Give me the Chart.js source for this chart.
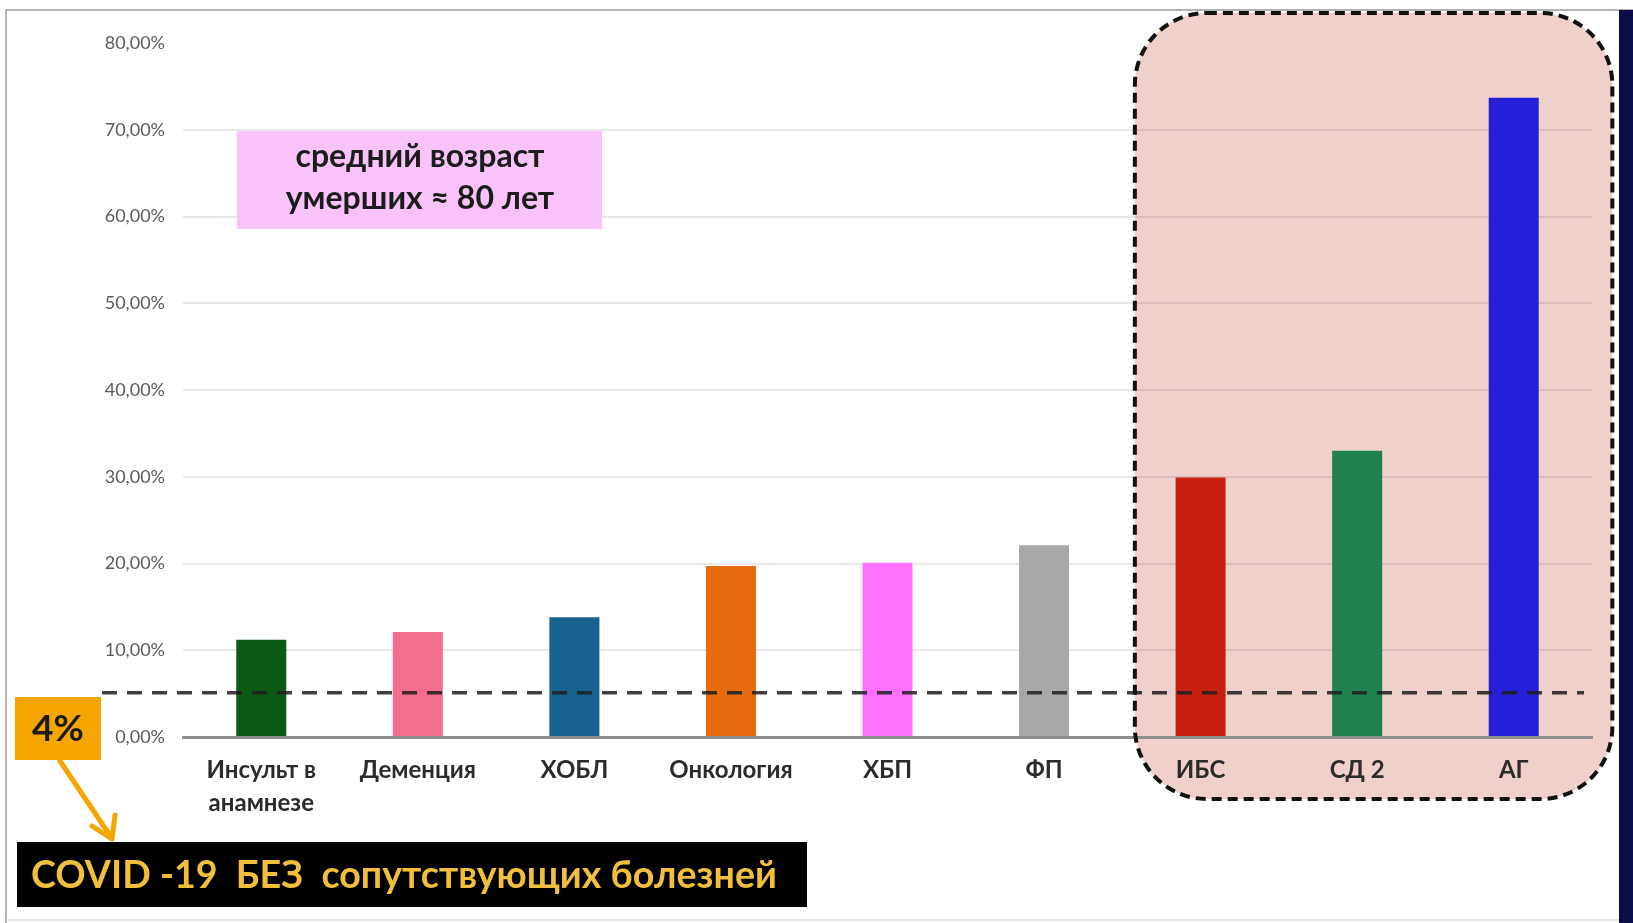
<!DOCTYPE html>
<html>
<head>
<meta charset="utf-8">
<script src="https://cdn.jsdelivr.net/npm/chart.js@4"></script>
<style>
html,body{margin:0;padding:0;background:#fff;overflow:hidden;}
#wrap{position:relative;width:1633px;height:923px;}
</style>
</head>
<body>
<div id="wrap"><canvas id="c" width="1633" height="923"></canvas></div>
<script>
// ---- data ----
const categories = [["Инсульт в", "анамнезе"], "Деменция", "ХОБЛ", "Онкология", "ХБП", "ФП", "ИБС", "СД 2", "АГ"];
const values = [11.2, 12.1, 13.8, 19.7, 20.1, 22.1, 29.9, 33.0, 73.7];
const barColors = ["#0b5a14", "#f26d8e", "#17628f", "#e56b0e", "#ff72ff", "#a8a8a8", "#c91f10", "#1f8050", "#2520d8"];
const yTicks = [0, 10, 20, 30, 40, 50, 60, 70, 80];
const refLineValue = 5.1;      // dashed "4%" reference line position as drawn
const refLineLabel = "4%";
const highlightFrom = 6;       // index of first highlighted category (ИБС)
const noteLines = ["средний возраст", "умерших ≈ 80 лет"];
const bannerText = "COVID -19  БЕЗ  сопутствующих болезней";

function roundRect(ctx, x, y, w, h, r) {
  ctx.beginPath();
  ctx.moveTo(x + r, y);
  ctx.lineTo(x + w - r, y);
  ctx.arcTo(x + w, y, x + w, y + r, r);
  ctx.lineTo(x + w, y + h - r);
  ctx.arcTo(x + w, y + h, x + w - r, y + h, r);
  ctx.lineTo(x + r, y + h);
  ctx.arcTo(x, y + h, x, y + h - r, r);
  ctx.lineTo(x, y + r);
  ctx.arcTo(x, y, x + r, y, r);
  ctx.closePath();
}

function regionRect(chart) {
  const xs = chart.scales.x;
  const cw = xs.getPixelForValue(1) - xs.getPixelForValue(0);
  const left = xs.getPixelForValue(highlightFrom) - 0.42 * cw;
  const right = xs.getPixelForValue(categories.length - 1) + 0.63 * cw;
  return {left, right, top: 13, bottom: 799};
}

const decor = {
  id: 'decor',
  beforeDraw(chart) {
    const ctx = chart.ctx;
    ctx.save();
    ctx.fillStyle = '#ffffff';
    ctx.fillRect(0, 0, chart.width, chart.height);
    // frame
    ctx.strokeStyle = '#9a9a9a';
    ctx.lineWidth = 1.5;
    ctx.beginPath();
    ctx.moveTo(6, 923); ctx.lineTo(6, 10); ctx.lineTo(1633, 10);
    ctx.stroke();
    ctx.strokeStyle = '#dcdcdc';
    ctx.beginPath(); ctx.moveTo(6, 920); ctx.lineTo(1633, 920); ctx.stroke();
    // highlight region fill
    const r = regionRect(chart);
    ctx.fillStyle = '#efd0cb';
    roundRect(ctx, r.left, r.top, r.right - r.left, r.bottom - r.top, 72);
    ctx.fill();
    ctx.restore();
  },
  afterDatasetsDraw(chart) {
    const ctx = chart.ctx;
    const ys = chart.scales.y;
    ctx.save();
    // dashed reference line
    const yRef = ys.getPixelForValue(refLineValue);
    ctx.strokeStyle = 'rgba(30,30,30,0.85)';
    ctx.lineWidth = 3.5;
    ctx.setLineDash([15, 10]);
    ctx.beginPath();
    ctx.moveTo(102, yRef);
    ctx.lineTo(1584, yRef);
    ctx.stroke();
    // region dashed border
    const r = regionRect(chart);
    ctx.strokeStyle = '#111';
    ctx.lineWidth = 4;
    ctx.setLineDash([10, 6]);
    roundRect(ctx, r.left, r.top, r.right - r.left, r.bottom - r.top, 72);
    ctx.stroke();
    ctx.setLineDash([]);

    // note box
    ctx.fillStyle = '#f9c3f9';
    ctx.fillRect(237, 131, 365, 98);
    ctx.fillStyle = '#1c1c1c';
    ctx.font = 'bold 32px Lato';
    ctx.textAlign = 'center';
    ctx.textBaseline = 'middle';
    ctx.fillText(noteLines[0], 420, 157, 268);
    ctx.fillText(noteLines[1], 420, 199, 282);

    // 4% box
    ctx.fillStyle = '#f5a500';
    ctx.fillRect(15, 697, 86, 63);
    ctx.fillStyle = '#1a1a1a';
    ctx.font = 'bold 37px Lato';
    ctx.fillText(refLineLabel, 58, 729);

    // arrow
    ctx.strokeStyle = '#f5a500';
    ctx.lineWidth = 5;
    ctx.lineCap = 'round';
    ctx.lineJoin = 'round';
    ctx.beginPath();
    ctx.moveTo(60, 761);
    ctx.lineTo(111, 837);
    ctx.stroke();
    ctx.beginPath();
    ctx.moveTo(92, 826);
    ctx.lineTo(112, 839);
    ctx.lineTo(115, 815);
    ctx.stroke();

    // banner
    ctx.fillStyle = '#000';
    ctx.fillRect(17, 842, 790, 65);
    ctx.fillStyle = '#f2bf3c';
    ctx.font = 'bold 38px Lato';
    ctx.textAlign = 'left';
    ctx.fillText(bannerText, 31, 876, 746);

    // right dark strip
    ctx.fillStyle = '#0b0c48';
    ctx.fillRect(1619, 10, 14, 913);
    ctx.restore();
  }
};

const chart = new Chart(document.getElementById('c'), {
  type: 'bar',
  data: {
    labels: categories,
    datasets: [{
      data: values,
      backgroundColor: barColors,
      borderWidth: 0,
      barPercentage: 0.9,
      categoryPercentage: 0.355
    }]
  },
  options: {
    responsive: false,
    animation: false,
    events: [],
    layout: {padding: {left: 0, right: 41, top: 43, bottom: 0}},
    plugins: {legend: {display: false}, tooltip: {enabled: false}},
    scales: {
      x: {
        grid: {display: false, drawTicks: false},
        border: {display: true, color: '#8f8f8f', width: 3},
        ticks: {
          color: '#2b2b2b',
          font: {family: 'Lato', weight: 'bold', size: 24, lineHeight: 1.38},
          padding: 17,
          maxRotation: 0,
          autoSkip: false
        },
        afterFit(s) { s.height = 186; }
      },
      y: {
        min: 0, max: 80,
        afterBuildTicks(s) { s.ticks = yTicks.map(v => ({value: v})); },
        grid: {
          drawTicks: false,
          lineWidth: 2,
          color: ctx => (ctx.tick && ctx.tick.value === 80) ? 'rgba(0,0,0,0)' : 'rgba(0,0,0,0.09)'
        },
        border: {display: false},
        ticks: {
          color: '#5a5a5a',
          font: {family: 'Lato', size: 18},
          padding: 18,
          callback: v => v.toFixed(2).replace('.', ',') + '%'
        },
        afterFit(s) { s.width = 183; }
      }
    }
  },
  plugins: [decor]
});
</script>
</body>
</html>
